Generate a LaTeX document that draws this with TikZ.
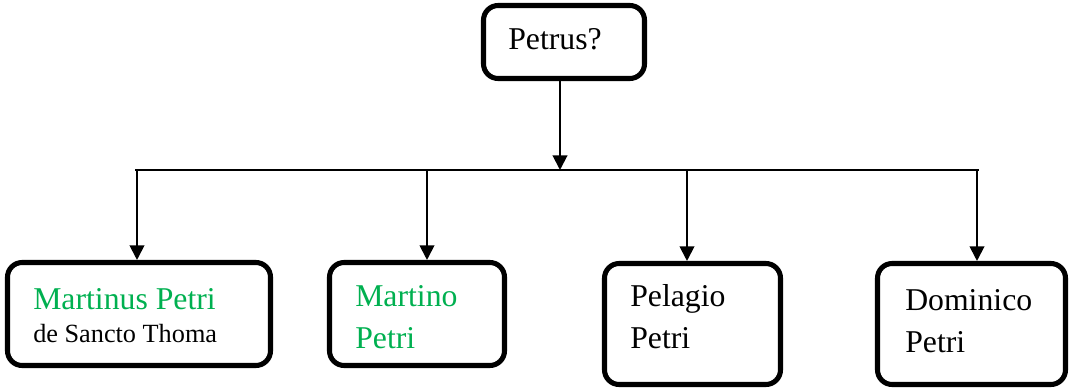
\documentclass[tikz,border=0pt]{standalone}
\usepackage{fontspec}
\setmainfont{Liberation Serif}
\usetikzlibrary{arrows.meta}
\definecolor{namegreen}{RGB}{0,176,80}

\begin{document}
\begin{tikzpicture}[x=0.75pt,y=-0.75pt,
    box/.style={draw, line width=3.8pt, rounded corners=11pt, inner sep=0pt},
    lbl/.style={anchor=base west, inner sep=0pt, align=left,
        font=\fontsize{23.8}{31.5}\selectfont},
    link/.style={line width=1.5pt, -{Triangle[length=11pt,width=11pt]}}]

    % 描画範囲
    \useasboundingbox (0,0) rectangle (1072,389);

    % 枠の定義
    \node[box, minimum width=161*0.75pt, minimum height=73*0.75pt] (top) at (564,42) {};
    \node[box, minimum width=263*0.75pt, minimum height=103*0.75pt] (m1) at (139,314) {};
    \node[box, minimum width=175*0.75pt, minimum height=103*0.75pt] (m2) at (417,314) {};
    \node[box, minimum width=176*0.75pt, minimum height=121*0.75pt] (m3) at (692.5,324) {};
    \node[box, minimum width=188*0.75pt, minimum height=121*0.75pt] (m4) at (971.5,324) {};

    % 名前のラベル (基準は最終行)
    \node[lbl] (t0) at (508,50) {Petrus?};
    \node[lbl, text=namegreen] (t1) at (33,342)
        {Martinus Petri\\[-7pt]{\fontsize{19.7}{24}\selectfont\color{black}de Sancto Thoma}};
    \node[lbl, text=namegreen] (t2) at (355,348) {Martino\\Petri};
    \node[lbl] (t3) at (630,348) {Pelagio\\Petri};
    \node[lbl] (t4) at (905,352) {Dominico\\Petri};

    % 分岐点の座標
    \coordinate (bl) at (135,170);
    \coordinate (br) at (979,170);
    \coordinate (d0) at (560,170);
    \coordinate (d1) at (137,170);
    \coordinate (d2) at (427,170);
    \coordinate (d3) at (687,170);
    \coordinate (d4) at (977,170);

    % 線・矢印の描画
    \draw [line width=1.5pt] (bl) -- (br);
    \draw [link] (d0 |- top.south) -- (d0);
    \draw [link] (d1) -- (d1 |- m1.north);
    \draw [link] (d2) -- (d2 |- m2.north);
    \draw [link] (d3) -- (d3 |- m3.north);
    \draw [link] (d4) -- (d4 |- m4.north);

\end{tikzpicture}
\end{document}
